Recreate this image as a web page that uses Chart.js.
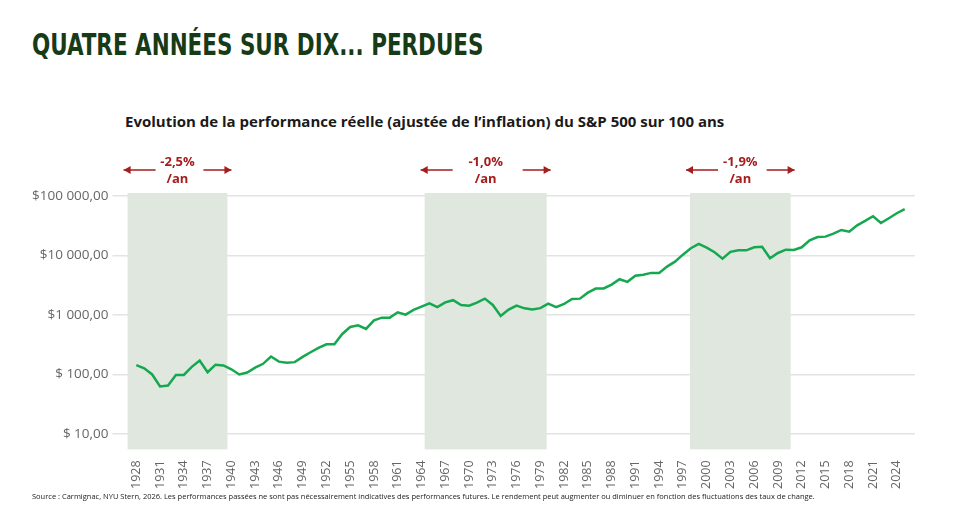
<!DOCTYPE html>
<html><head><meta charset="utf-8">
<script src="https://cdn.jsdelivr.net/npm/chart.js@4"></script>
<style>
body{margin:0;width:958px;height:509px;background:#fff;position:relative;overflow:hidden;font-family:"Open Sans",sans-serif}
#t{position:absolute;left:32px;top:26px;font:bold 31px "DejaVu Sans Condensed","Liberation Sans Narrow",sans-serif;color:#173a17;transform:scaleX(0.77);transform-origin:left}
#s{position:absolute;left:125px;top:111px;font:bold 15px "Open Sans",sans-serif;color:#1a1a1a}
#src{position:absolute;left:32px;top:491px;font:7.5px "Open Sans",sans-serif;color:#222}
#w{position:absolute;left:0;top:0;width:958px;height:509px}
</style></head><body>
<div id="t">QUATRE ANNÉES SUR DIX... PERDUES</div>
<div id="s">Evolution de la performance réelle (ajustée de l’inflation) du S&amp;P 500 sur 100 ans</div>
<div id="w"><canvas id="c"></canvas></div>
<div id="src">Source : Carmignac, NYU Stern, 2026. Les performances passées ne sont pas nécessairement indicatives des performances futures. Le rendement peut augmenter ou diminuer en fonction des fluctuations des taux de change.</div>
<script>
const years = [];
for (let y = 1928; y <= 2025; y++) years.push(y);
const values = [143,127,100,63,65,98,98,134,171,109,146,142,122,100,108,130,151,200,164,158,161,197,236,279,321,321,479,628,670,582,813,901,901,1110,1010,1214,1380,1570,1350,1630,1770,1470,1430,1610,1880,1470,962,1230,1440,1290,1240,1300,1550,1350,1530,1860,1880,2370,2770,2790,3240,3980,3600,4570,4750,5090,5090,6490,7870,10300,13200,15600,13500,11300,8830,11500,12200,12200,13700,14000,8970,11000,12500,12400,13700,18000,20400,20700,23300,26800,25000,32100,38000,45500,35100,42200,51200,59900];
const bands = [[1926.9,1939.5],[1964.4,1979.8],[1997.9,2010.6]];
const bandLabels = ["-2,5%","-1,0%","-1,9%"];
const yTickLabels = {100000:"$100 000,00",10000:"$10 000,00",1000:"$1 000,00",100:"$ 100,00",10:"$ 10,00"};

const bandPlugin = {
  id: "bands",
  beforeDatasetsDraw(chart) {
    const {ctx, chartArea: a, scales: {x}} = chart;
    ctx.save();
    bands.forEach(([s, e], i) => {
      const x0 = x.getPixelForValue(s), x1 = x.getPixelForValue(e);
      ctx.fillStyle = "#dfe7df";
      ctx.fillRect(x0, a.top, x1 - x0, a.bottom - a.top);
      const cx = (x0 + x1) / 2, ay = 170;
      ctx.strokeStyle = "#a51d1d"; ctx.fillStyle = "#a51d1d"; ctx.lineWidth = 1.5;
      [[x0 + 28, x0 - 4], [x1 - 24, x1 + 4]].forEach(([from, to]) => {
        ctx.beginPath(); ctx.moveTo(from, ay); ctx.lineTo(to, ay); ctx.stroke();
        const d = to > from ? -1 : 1;
        ctx.beginPath(); ctx.moveTo(to, ay); ctx.lineTo(to + d * 7, ay - 4); ctx.lineTo(to + d * 7, ay + 4); ctx.fill();
      });
      ctx.font = "bold 13px 'Open Sans'"; ctx.textAlign = "center";
      ctx.fillText(bandLabels[i], cx, 166);
      ctx.fillText("/an", cx, 183);
    });
    ctx.restore();
  }
};

new Chart(document.getElementById("c"), {
  type: "line",
  data: { datasets: [{ data: years.map((y, i) => ({x: y, y: values[i]})), borderColor: "#16a84f", borderWidth: 2.5, pointRadius: 0, tension: 0 }] },
  options: {
    animation: false, responsive: true, maintainAspectRatio: false,
    layout: { padding: { top: 193, left: 28, right: 43, bottom: 17 } },
    plugins: { legend: { display: false }, tooltip: { enabled: false } },
    scales: {
      x: {
        type: "linear", min: 1926, max: 2026.3,
        grid: { display: false }, border: { display: false },
        afterBuildTicks(s) { s.ticks = years.filter(y => (y - 1928) % 3 === 0).map(v => ({value: v})); },
        ticks: { autoSkip: false, maxRotation: 90, minRotation: 90, color: "#666", font: { size: 12.5, family: "Open Sans" }, callback: v => String(v) }
      },
      y: {
        type: "logarithmic", min: 5.5, max: 112000,
        grid: { color: "#e3e3e3", lineWidth: 1.5 }, border: { display: false },
        afterBuildTicks(s) { s.ticks = [10,100,1000,10000,100000].map(v => ({value: v})); },
        ticks: { color: "#666", font: { size: 13.5, family: "Open Sans" }, padding: 4, callback: v => yTickLabels[v] }
      }
    }
  },
  plugins: [bandPlugin]
});
</script>
</body></html>
